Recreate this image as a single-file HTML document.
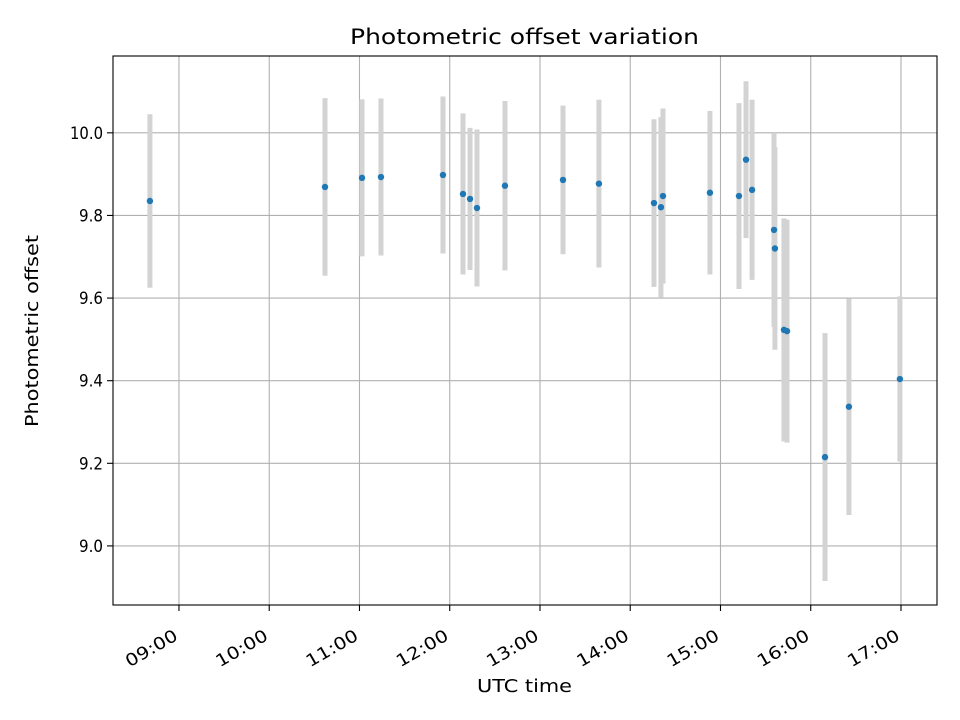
<!DOCTYPE html>
<html><head><meta charset="utf-8"><style>
html,body{margin:0;padding:0;background:#fff;}
svg{display:block;font-family:"DejaVu Sans","Liberation Sans",sans-serif;}
</style></head><body>
<svg id="chart" width="960" height="720" viewBox="0 0 960 720" xmlns="http://www.w3.org/2000/svg">
<rect x="0" y="0" width="960" height="720" fill="#fff"/>
<g id="grid"></g>
<g id="bars"></g>
<g id="pts"></g>
<g id="axes"></g>
<text x="350" y="44" font-size="21" textLength="349" lengthAdjust="spacingAndGlyphs">Photometric offset variation</text>
<text x="477" y="692" font-size="18" textLength="95" lengthAdjust="spacingAndGlyphs">UTC time</text>
<text transform="translate(38,427) rotate(-90)" font-size="18" textLength="192" lengthAdjust="spacingAndGlyphs">Photometric offset</text>
</svg>
<script>
const times = [8.678,10.618,11.028,11.238,11.925,12.147,12.225,12.302,12.612,13.255,13.653,14.263,14.34,14.363,14.883,15.205,15.283,15.35,15.593,15.603,15.703,15.737,16.158,16.423,16.988];
const offsets = [9.835,9.869,9.891,9.893,9.898,9.852,9.840,9.818,9.872,9.886,9.877,9.830,9.820,9.847,9.855,9.847,9.935,9.862,9.765,9.720,9.523,9.520,9.215,9.337,9.404];
const errors = [0.21,0.215,0.19,0.19,0.19,0.195,0.172,0.19,0.205,0.18,0.203,0.203,0.218,0.212,0.198,0.225,0.19,0.218,0.235,0.245,0.27,0.27,0.30,0.262,0.20];
const xTicks = [9,10,11,12,13,14,15,16,17];
const xTickLabels = ["09:00","10:00","11:00","12:00","13:00","14:00","15:00","16:00","17:00"];
const yTicks = [9.0,9.2,9.4,9.6,9.8,10.0];
const yTickLabels = ["9.0","9.2","9.4","9.6","9.8","10.0"];

const L=113,R=937,T=56,B=605;
const xMin=8.269,xMax=17.399,yMin=8.857,yMax=10.186;
const sx=v=>L+(v-xMin)/(xMax-xMin)*(R-L);
const sy=v=>B-(v-yMin)/(yMax-yMin)*(B-T);
const NS="http://www.w3.org/2000/svg";
function mk(tag,attrs,parent){const e=document.createElementNS(NS,tag);for(const k in attrs)e.setAttribute(k,attrs[k]);parent.appendChild(e);return e;}
const grid=document.getElementById('grid'),bars=document.getElementById('bars'),pts=document.getElementById('pts'),axes=document.getElementById('axes');

xTicks.forEach((t,i)=>{
  const x=sx(t);
  const g=mk('line',{x1:x,x2:x,y1:T,y2:B,stroke:'#b0b0b0','stroke-width':1.1},grid);
  
  
  const tk=mk('line',{x1:x,x2:x,y1:B,y2:B+6,stroke:'#000','stroke-width':1.1},axes);
  
  
  const tx=mk('text',{x:0,y:0,'font-size':17,'text-anchor':'end',textLength:57,lengthAdjust:'spacingAndGlyphs',transform:`translate(${x},${B+34}) rotate(-30)`},axes);
  tx.textContent=xTickLabels[i];
  
  
});
yTicks.forEach((v,i)=>{
  const y=sy(v);
  const g=mk('line',{x1:L,x2:R,y1:y,y2:y,stroke:'#b0b0b0','stroke-width':1.1},grid);
  
  
  const tk=mk('line',{x1:L-6,x2:L,y1:y,y2:y,stroke:'#000','stroke-width':1.1},axes);
  
  
  const tx=mk('text',{x:L-10,y:y+6,'font-size':17,'text-anchor':'end',textLength:yTickLabels[i].length>3?33:24,lengthAdjust:'spacingAndGlyphs'},axes);
  tx.textContent=yTickLabels[i];
  
  
});
const frame=mk('rect',{x:L,y:T,width:R-L,height:B-T,fill:'none',stroke:'#000','stroke-width':1.1},axes);



times.forEach((t,i)=>{
  const x=sx(t);
  const b=mk('line',{x1:x,x2:x,y1:sy(offsets[i]+errors[i]),y2:sy(offsets[i]-errors[i]),stroke:'#d3d3d3','stroke-width':5},bars);
  
  
});
times.forEach((t,i)=>{
  const c=mk('circle',{cx:sx(t),cy:sy(offsets[i]),r:3.2,fill:'#1f77b4'},pts);
  
  
});
</script>
</body></html>
